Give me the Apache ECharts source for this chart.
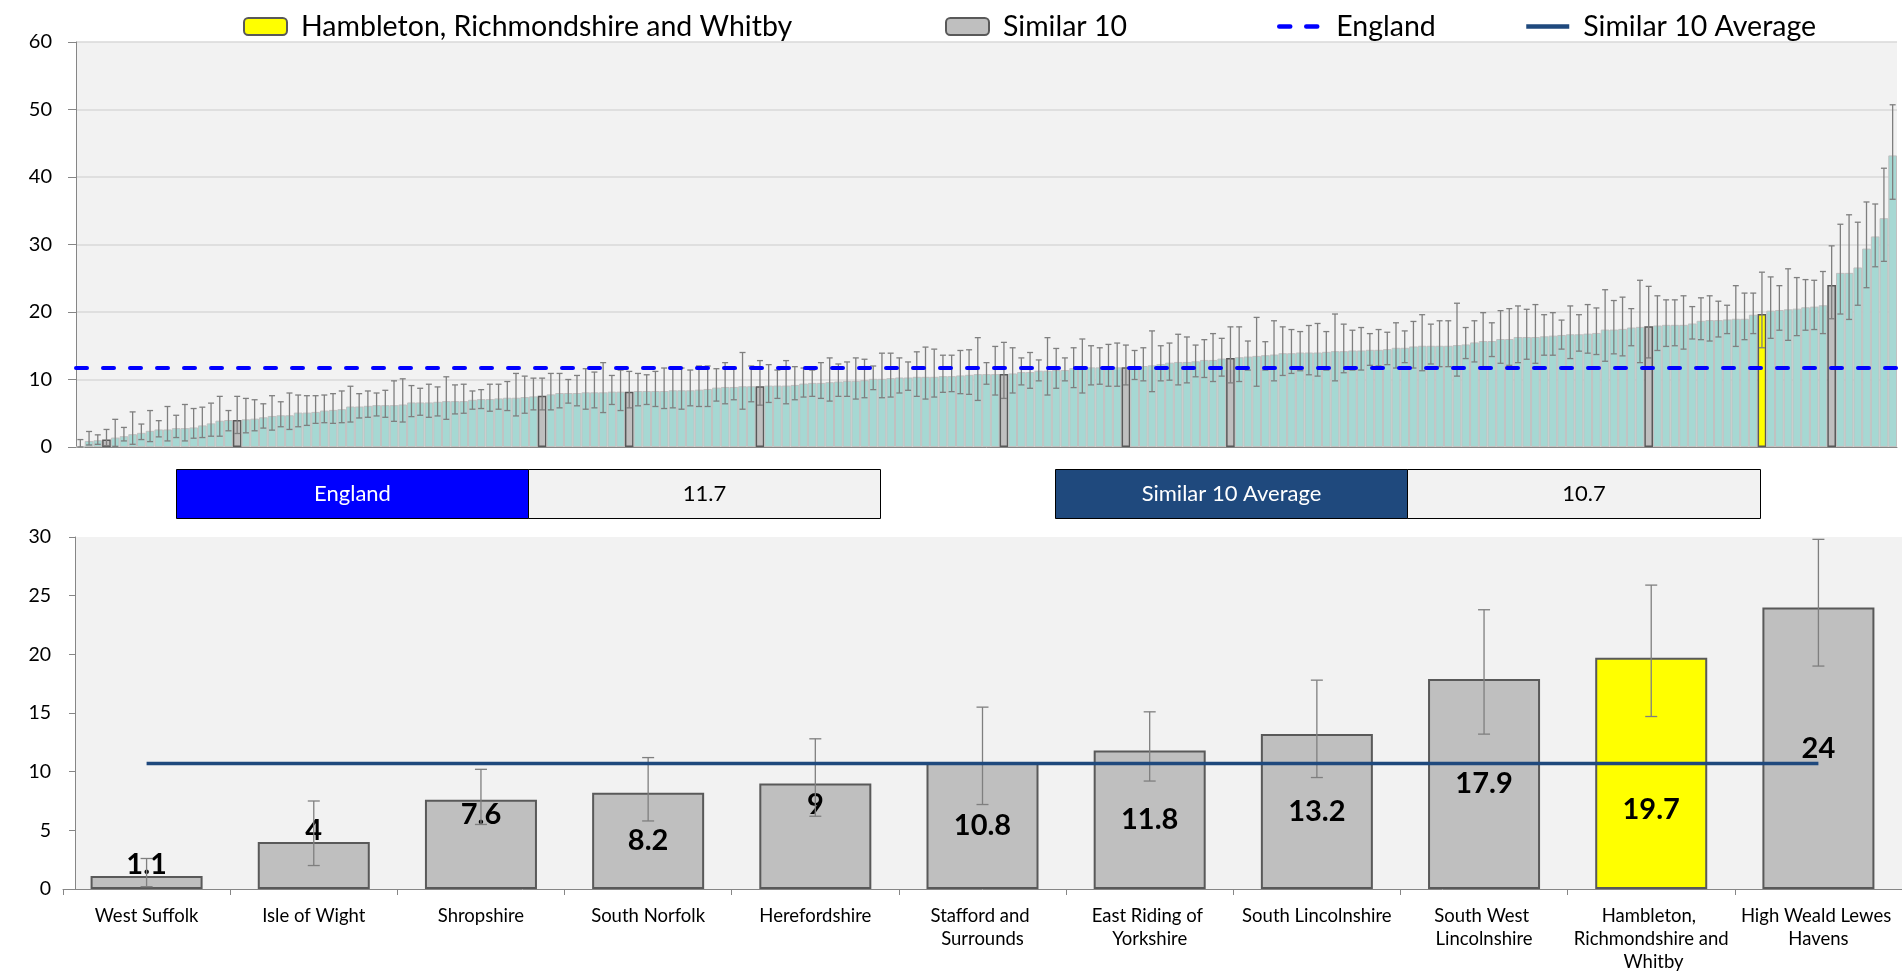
<!DOCTYPE html>
<html>
<head>
<meta charset="utf-8">
<title>Similar 10 comparison</title>
<script src="https://cdn.jsdelivr.net/npm/echarts@6/dist/echarts.min.js"></script>
<style>
  html, body { margin: 0; padding: 0; background: #fff; }
  #chart { width: 1902px; height: 976px; }
</style>
</head>
<body>
<div id="chart"></div>
<script>
// all areas in England, sorted by value
const allValues = [
  0, 0.9, 1.0, 1.1, 1.4, 1.6, 1.9, 2.1, 2.4, 2.6, 2.6, 2.8, 2.8, 2.9, 3.2, 3.5, 3.9, 4.0, 4.0, 4.1,
  4.2, 4.4, 4.6, 4.7, 4.7, 5.1, 5.1, 5.2, 5.4, 5.5, 5.6, 6.0, 6.0, 6.1, 6.2, 6.2, 6.2, 6.3, 6.6, 6.6,
  6.6, 6.7, 6.8, 6.8, 6.8, 7.0, 7.1, 7.1, 7.2, 7.3, 7.3, 7.4, 7.5, 7.6, 7.8, 8.0, 8.0, 8.0, 8.1, 8.1,
  8.1, 8.2, 8.2, 8.2, 8.3, 8.3, 8.3, 8.3, 8.4, 8.4, 8.4, 8.5, 8.6, 8.8, 8.9, 8.9, 9.0, 9.0, 9.0, 9.1,
  9.1, 9.1, 9.2, 9.4, 9.5, 9.5, 9.6, 9.7, 9.8, 9.8, 9.9, 10.1, 10.1, 10.2, 10.3, 10.3, 10.4, 10.4, 10.4, 10.5,
  10.5, 10.6, 10.7, 10.8, 10.8, 10.8, 10.8, 10.9, 11.1, 11.1, 11.3, 11.3, 11.4, 11.4, 11.7, 11.8, 11.8, 11.8, 11.8, 11.8,
  11.8, 12.0, 12.0, 12.1, 12.3, 12.5, 12.6, 12.6, 12.7, 12.9, 12.9, 13.1, 13.2, 13.3, 13.4, 13.5, 13.6, 13.7, 13.9, 13.9,
  14.0, 14.0, 14.0, 14.1, 14.2, 14.2, 14.3, 14.3, 14.4, 14.4, 14.5, 14.7, 14.7, 14.9, 15.0, 15.0, 15.0, 15.0, 15.1, 15.2,
  15.5, 15.7, 15.7, 16.0, 16.0, 16.3, 16.3, 16.3, 16.4, 16.5, 16.6, 16.7, 16.7, 16.8, 16.9, 17.4, 17.4, 17.5, 17.7, 17.8,
  17.9, 18.0, 18.1, 18.1, 18.1, 18.3, 18.7, 18.8, 18.8, 18.9, 19.0, 19.0, 19.6, 19.7, 20.2, 20.3, 20.4, 20.5, 20.7, 20.8,
  21.0, 24.0, 25.8, 25.8, 26.6, 29.4, 31.2, 33.9, 43.2
];
const allLower = [
  0, 0.3, 0.4, 0.2, 0.1, 0.9, 0.4, 1.1, 0.8, 1.5, 0.9, 1.4, 0.9, 1.3, 1.4, 1.6, 1.6, 2.4, 2.0, 2.1,
  2.4, 2.8, 2.5, 3.0, 2.6, 3.0, 3.2, 3.5, 3.6, 3.5, 3.6, 3.7, 4.3, 4.4, 4.6, 4.4, 3.8, 3.7, 4.5, 4.7,
  4.4, 4.6, 4.1, 4.9, 5.0, 5.6, 5.7, 5.3, 5.6, 5.4, 4.6, 5.0, 5.5, 5.5, 5.5, 5.8, 6.5, 6.1, 5.6, 5.8,
  5.1, 6.3, 5.4, 5.8, 6.1, 6.3, 6.0, 5.7, 5.8, 5.6, 6.1, 6.0, 6.0, 6.8, 6.4, 7.0, 5.6, 6.7, 6.2, 6.6,
  7.2, 6.4, 7.0, 7.4, 7.5, 7.2, 6.8, 7.5, 7.5, 7.1, 7.3, 8.5, 7.3, 7.4, 8.0, 8.4, 7.5, 7.1, 7.4, 8.1,
  8.2, 7.9, 7.8, 6.9, 9.3, 7.7, 7.2, 8.0, 9.2, 8.7, 9.8, 7.7, 8.7, 9.8, 8.8, 8.0, 9.2, 9.3, 9.0, 9.0,
  9.2, 10.0, 9.8, 8.2, 9.8, 9.9, 9.2, 9.5, 10.4, 10.3, 9.7, 10.5, 9.5, 9.7, 11.4, 9.0, 11.4, 9.8, 10.6, 10.9,
  11.3, 10.7, 10.5, 11.4, 9.8, 11.0, 11.4, 11.4, 12.1, 12.0, 12.2, 11.7, 12.5, 11.7, 11.3, 12.3, 11.9, 11.9, 10.5, 13.1,
  12.6, 11.8, 13.4, 12.4, 12.1, 12.5, 13.0, 12.4, 13.6, 13.6, 14.5, 13.1, 14.2, 13.9, 13.7, 12.7, 13.8, 13.5, 15.0, 12.5,
  13.2, 14.3, 14.9, 15.0, 14.5, 16.0, 15.9, 15.7, 16.3, 16.8, 14.9, 15.9, 16.8, 14.7, 16.1, 17.3, 15.8, 16.5, 17.3, 17.4,
  16.8, 19.0, 19.7, 18.9, 21.0, 23.6, 26.7, 27.5, 36.7
];
const allUpper = [
  1.1, 2.3, 1.8, 2.6, 4.1, 2.9, 5.2, 3.4, 5.4, 3.9, 6.0, 4.7, 6.3, 5.7, 5.9, 6.5, 7.5, 5.4, 7.5, 7.2,
  7.0, 6.4, 7.6, 6.7, 8.0, 7.7, 7.6, 7.6, 7.7, 7.9, 8.3, 9.0, 7.9, 8.3, 8.0, 8.4, 9.8, 10.1, 9.1, 8.7,
  9.3, 8.9, 10.4, 9.2, 9.3, 8.3, 8.5, 9.3, 9.3, 9.7, 10.9, 10.5, 10.2, 10.2, 10.9, 10.9, 10.0, 10.6, 11.6, 11.1,
  12.5, 10.6, 11.4, 11.2, 10.9, 10.7, 11.2, 11.7, 11.7, 11.7, 11.4, 12.0, 12.0, 11.6, 12.5, 11.6, 14.0, 12.0, 12.8, 12.2,
  11.4, 12.8, 11.9, 11.7, 11.4, 12.5, 13.2, 12.3, 12.6, 13.2, 13.0, 12.0, 13.9, 13.9, 13.2, 12.6, 14.1, 14.8, 14.5, 13.6,
  13.6, 14.3, 14.4, 16.2, 12.5, 14.9, 15.5, 14.7, 13.2, 14.0, 12.9, 16.2, 14.6, 13.2, 14.7, 16.0, 15.0, 14.7, 15.2, 15.4,
  15.1, 14.3, 14.7, 17.2, 15.0, 15.4, 16.7, 16.3, 15.1, 15.9, 16.8, 16.1, 17.8, 17.8, 15.7, 19.2, 15.6, 18.7, 17.8, 17.4,
  17.1, 18.0, 18.3, 17.1, 19.7, 18.2, 17.3, 17.7, 16.8, 17.4, 17.0, 18.4, 17.2, 18.6, 19.6, 18.2, 18.7, 18.7, 21.3, 17.7,
  18.7, 19.9, 18.4, 20.2, 20.5, 20.9, 20.4, 21.1, 19.6, 19.9, 18.8, 20.9, 19.6, 21.1, 20.6, 23.3, 21.7, 22.2, 20.5, 24.7,
  23.8, 22.4, 21.8, 21.8, 22.4, 20.8, 22.1, 22.4, 21.6, 21.0, 23.9, 22.8, 22.8, 25.9, 25.2, 23.9, 26.4, 25.1, 24.8, 24.7,
  26.0, 29.8, 33.0, 34.4, 33.3, 36.3, 36.0, 41.3, 50.7
];

// Similar 10 and the local area
const compNames = [
  "West Suffolk", "Isle of Wight", "Shropshire", "South Norfolk", "Herefordshire",
  "Stafford and Surrounds", "East Riding of Yorkshire", "South Lincolnshire",
  "South West Lincolnshire", "Hambleton, Richmondshire and Whitby", "High Weald Lewes Havens"
];
const compValues = [1.1, 4, 7.6, 8.2, 9, 10.8, 11.8, 13.2, 17.9, 19.7, 24];
const compLower = [0.2, 2.0, 5.5, 5.8, 6.2, 7.2, 9.2, 9.5, 13.2, 14.7, 19.0];
const compUpper = [2.6, 7.5, 10.2, 11.2, 12.8, 15.5, 15.1, 17.8, 23.8, 25.9, 29.8];
// position of each one in the sorted England list
const compRank = [3, 18, 53, 63, 78, 106, 120, 132, 180, 193, 201];

const localArea = "Hambleton, Richmondshire and Whitby";
const englandValue = 11.7;
const similarAvg = 10.7;

const FONT = "Lato";
const myChart = echarts.init(document.getElementById("chart"));

// vertical shift of some value labels in the lower chart (px), as in the original
const labelNudge = [-18, -35, -30, 0, -32, 0, 0, 0, 0, 36, 0];

// error bar drawn with the axis scales
function errorBar(capHalf, width) {
  return function (params, api) {
    const x = api.value(0);
    const lo = api.coord([x, api.value(1)]);
    const hi = api.coord([x, api.value(2)]);
    const style = { stroke: "#7f7f7f", lineWidth: width };
    return {
      type: "group",
      children: [
        { type: "line", shape: { x1: lo[0], y1: lo[1], x2: hi[0], y2: hi[1] }, style: style },
        { type: "line", shape: { x1: hi[0] - capHalf, y1: hi[1], x2: hi[0] + capHalf, y2: hi[1] }, style: style },
        { type: "line", shape: { x1: lo[0] - capHalf, y1: lo[1], x2: lo[0] + capHalf, y2: lo[1] }, style: style }
      ]
    };
  };
}

// top bars: highlight the Similar 10 and the local area
const topBars = allValues.map(function (v, i) {
  const k = compRank.indexOf(i);
  if (k < 0) return v;
  return {
    value: v,
    itemStyle: {
      color: compNames[k] === localArea ? "#ffff00" : "#bfbfbf",
      borderColor: "#595959",
      borderWidth: 1.5
    }
  };
});

// lower bars, split in two series so the legend gets both colours
function lowerBars(isLocal) {
  return compNames.map(function (n, i) {
    if ((n === localArea) !== isLocal) return null;
    return { value: compValues[i], label: { offset: [0, labelNudge[i]] } };
  });
}

const legendText = { fontSize: 28.5, fontFamily: FONT, color: "#000", padding: [0, 0, 0, 9] };
function legendAt(left, name, lineStyle) {
  const l = {
    left: left,
    top: 12,
    padding: 0,
    itemWidth: 43,
    itemHeight: 17,
    textStyle: legendText,
    data: [name]
  };
  // line entries: no symbol, only the line
  if (lineStyle) {
    l.itemStyle = { opacity: 0 };
    l.lineStyle = lineStyle;
  }
  return l;
}

function box(left, width, fill, txt, txtColor) {
  return {
    type: "rect",
    left: left,
    top: 469,
    shape: { width: width, height: 49 },
    style: { fill: fill, stroke: "#000", lineWidth: 1 },
    textContent: { style: { text: txt, fill: txtColor, font: "22px " + FONT } },
    textConfig: { position: "inside" }
  };
}

const option = {
  backgroundColor: "#fff",
  animation: false,
  legend: [
    legendAt(243, localArea, null),
    legendAt(945, "Similar 10", null),
    legendAt(1277, "England", { color: "#0000ff", width: 4.5, type: [11, 16], cap: "round" }),
    legendAt(1524, "Similar 10 Average", { color: "#1f497d", width: 4.5, type: "solid" })
  ],
  graphic: [
    // plot background of the lower chart, starting at its value axis
    {
      type: "rect",
      left: 75,
      top: 537,
      z: -1,
      silent: true,
      shape: { width: 1827, height: 352 },
      style: { fill: "#f2f2f2" }
    },
    box(176, 352, "#0000ff", "England", "#fff"),
    box(528, 352, "#f2f2f2", String(englandValue), "#000"),
    box(1055, 352, "#1f497d", "Similar 10 Average", "#fff"),
    box(1407, 353, "#f2f2f2", String(similarAvg), "#000")
  ],
  grid: [
    { left: 76, right: 5, top: 42, height: 405, show: true, backgroundColor: "#f2f2f2", borderWidth: 0 },
    { left: 63, right: 0, top: 537, height: 352, show: false }
  ],
  xAxis: [
    {
      gridIndex: 0,
      type: "category",
      data: allValues.map(function (v, i) { return i + 1; }),
      axisLine: { show: true, lineStyle: { color: "#868686", width: 1 } },
      axisTick: { show: false },
      axisLabel: { show: false }
    },
    {
      gridIndex: 1,
      type: "category",
      data: compNames,
      axisLine: { show: true, lineStyle: { color: "#868686", width: 1 } },
      axisTick: { show: true, length: 6, lineStyle: { color: "#868686" } },
      axisLabel: {
        interval: 0,
        fontSize: 18.5,
        fontFamily: FONT,
        color: "#000",
        lineHeight: 23,
        margin: 16,
        width: 160,
        overflow: "break"
      }
    }
  ],
  yAxis: [
    {
      gridIndex: 0,
      type: "value",
      min: 0,
      max: 60,
      interval: 10,
      axisLine: { show: true, lineStyle: { color: "#868686" } },
      axisTick: { show: true, length: 8, lineStyle: { color: "#868686" } },
      axisLabel: { fontSize: 20, fontFamily: FONT, color: "#000", margin: 24 },
      splitLine: { lineStyle: { color: "#d9d9d9", width: 1.5 } }
    },
    {
      gridIndex: 1,
      type: "value",
      min: 0,
      max: 30,
      interval: 5,
      offset: -12,
      axisLine: { show: true, lineStyle: { color: "#868686" } },
      axisTick: { show: true, length: 6, lineStyle: { color: "#868686" } },
      axisLabel: { fontSize: 19.5, fontFamily: FONT, color: "#000", margin: 24 },
      splitLine: { show: false }
    }
  ],
  series: [
    {
      name: "All areas",
      type: "bar",
      xAxisIndex: 0,
      yAxisIndex: 0,
      barCategoryGap: 0,
      itemStyle: { color: "#a6d8d3", borderColor: "#c0c0c0", borderWidth: 1 },
      data: topBars,
      z: 2
    },
    {
      name: "All areas CI",
      type: "custom",
      xAxisIndex: 0,
      yAxisIndex: 0,
      renderItem: errorBar(3, 1.3),
      data: allValues.map(function (v, i) { return [i, allLower[i], allUpper[i]]; }),
      z: 3
    },
    {
      name: "England",
      type: "line",
      xAxisIndex: 0,
      yAxisIndex: 0,
      symbol: "none",
      data: [],
      itemStyle: { color: "#0000ff" },
      lineStyle: { color: "#0000ff", width: 4, type: [11, 16], cap: "round" },
      markLine: {
        silent: true,
        symbol: "none",
        label: { show: false },
        lineStyle: { color: "#0000ff", width: 4, type: [11, 16], cap: "round" },
        data: [{ yAxis: englandValue }]
      },
      z: 4
    },
    {
      name: "Similar 10",
      type: "bar",
      xAxisIndex: 1,
      yAxisIndex: 1,
      barWidth: "67%",
      barGap: "-100%",
      itemStyle: { color: "#bfbfbf", borderColor: "#595959", borderWidth: 2 },
      label: { show: true, position: "inside", fontSize: 29, fontWeight: "bold", fontFamily: FONT, color: "#000" },
      data: lowerBars(false),
      z: 2
    },
    {
      name: localArea,
      type: "bar",
      xAxisIndex: 1,
      yAxisIndex: 1,
      barWidth: "67%",
      barGap: "-100%",
      itemStyle: { color: "#ffff00", borderColor: "#595959", borderWidth: 2 },
      label: { show: true, position: "inside", fontSize: 29, fontWeight: "bold", fontFamily: FONT, color: "#000" },
      data: lowerBars(true),
      z: 2
    },
    {
      name: "Similar 10 CI",
      type: "custom",
      xAxisIndex: 1,
      yAxisIndex: 1,
      renderItem: errorBar(6, 1.3),
      data: compNames.map(function (n, i) { return [i, compLower[i], compUpper[i]]; }),
      z: 3
    },
    {
      name: "Similar 10 Average",
      type: "line",
      xAxisIndex: 1,
      yAxisIndex: 1,
      symbol: "none",
      itemStyle: { color: "#1f497d" },
      lineStyle: { color: "#1f497d", width: 3.5 },
      data: compNames.map(function () { return similarAvg; }),
      z: 4
    }
  ]
};

option && myChart.setOption(option);
window.addEventListener("resize", () => {
  myChart.resize();
});
</script>
</body>
</html>
